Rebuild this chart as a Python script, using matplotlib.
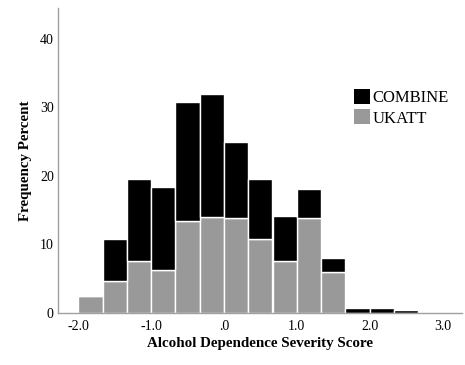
import matplotlib.pyplot as plt
from matplotlib.patches import Patch

# left edges of the histogram bins (width 1/3)
bin_left = [-2.0, -1.667, -1.333, -1.0, -0.667, -0.333, 0.0, 0.333,
            0.667, 1.0, 1.333, 1.667, 2.0, 2.333, 2.667]
ukatt = [2.5, 4.6, 7.5, 6.3, 13.4, 14.0, 13.9, 10.7, 7.5, 13.9, 6.0,
         0, 0, 0, 0]
combine = [0, 6.1, 12.1, 12.0, 17.4, 18.0, 11.0, 8.9, 6.6, 4.2, 2.0,
           0.65, 0.65, 0.35, 0.12]
xticks = [-2.0, -1.0, 0.0, 1.0, 2.0, 3.0]
xtick_labels = ['-2.0', '-1.0', '.0', '1.0', '2.0', '3.0']
yticks = [0, 10, 20, 30, 40]

plt.rcParams['font.family'] = ['Liberation Serif', 'DejaVu Serif']

fig = plt.figure(figsize=(4.65, 3.65), dpi=100)
ax = fig.add_axes([0.1247, 0.1433, 0.8688, 0.8347])

w = 1 / 3
gray = '#999999'
ax.bar(bin_left, ukatt, width=w, align='edge', color=gray,
       edgecolor='white', linewidth=1.0)
ax.bar(bin_left, combine, width=w, align='edge', bottom=ukatt,
       color='black', edgecolor='white', linewidth=1.0)

ax.set_xlim(-2.28, 3.27)
ax.set_ylim(0, 44.5)
ax.set_xticks(xticks)
ax.set_xticklabels(xtick_labels)
ax.set_yticks(yticks)
ax.tick_params(length=0, labelsize=10, colors='black')
ax.tick_params(axis='x', pad=5)
ax.tick_params(axis='y', pad=3)

for s in ['top', 'right']:
    ax.spines[s].set_visible(False)
for s in ['left', 'bottom']:
    ax.spines[s].set_color('#a0a0a0')
    ax.spines[s].set_linewidth(1.0)

ax.set_xlabel('Alcohol Dependence Severity Score', fontsize=10.8,
              fontweight='bold', labelpad=3)
ax.set_ylabel('Frequency Percent', fontsize=10.8, fontweight='bold',
              labelpad=6)

handles = [Patch(facecolor='black', edgecolor='none'),
           Patch(facecolor=gray, edgecolor='none')]
fig.legend(handles, ['COMBINE', 'UKATT'], loc='upper left',
           bbox_to_anchor=(354 / 465, 1 - 89 / 365), frameon=False,
           fontsize=12, handlelength=0.95, handleheight=1.0,
           handletextpad=0.15, labelspacing=0.2, borderpad=0,
           borderaxespad=0)

fig.savefig('out.png', dpi=100)
